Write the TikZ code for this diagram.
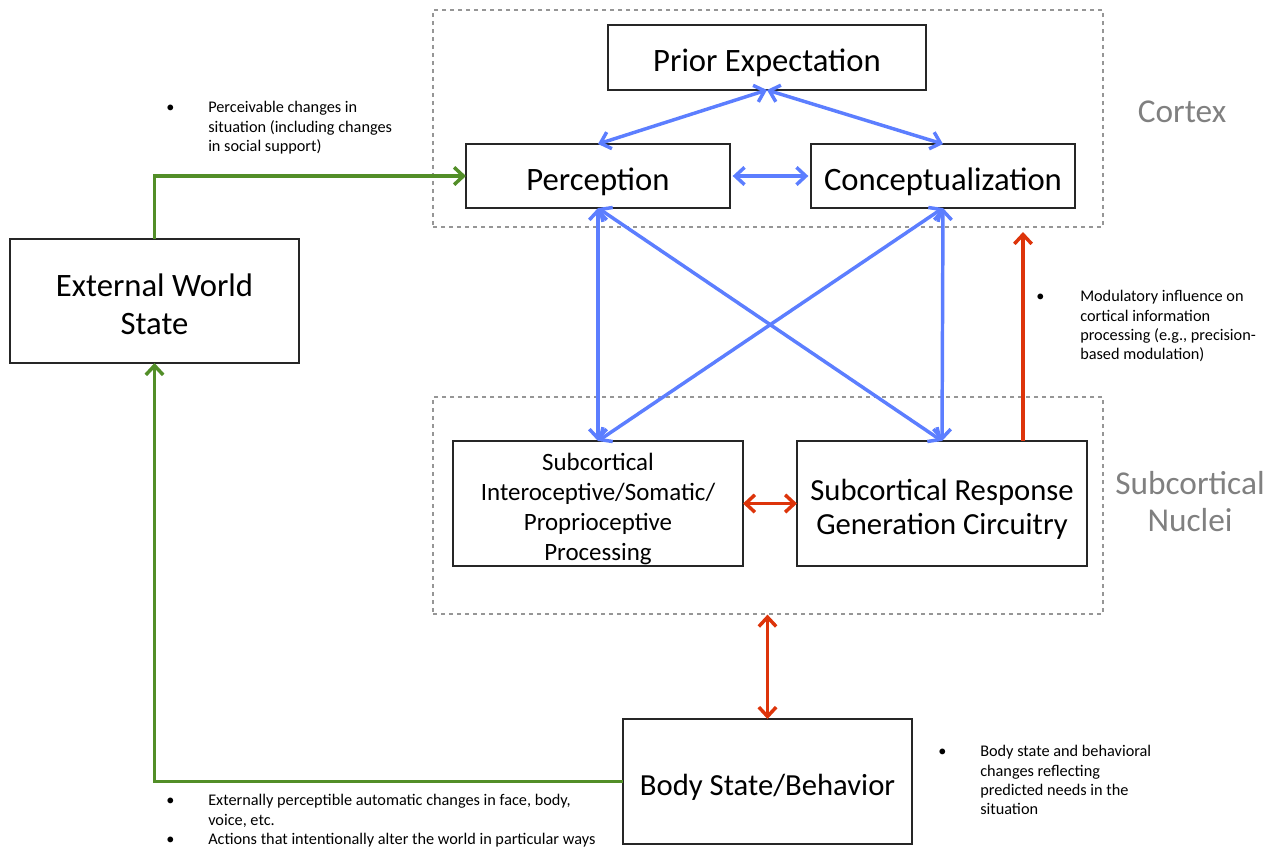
\documentclass[tikz,border=0pt]{standalone}
\usepackage{fontspec}
\setmainfont{Carlito}
\usetikzlibrary{arrows.meta}
\definecolor{cortexblue}{RGB}{92,126,255}
\definecolor{nucleired}{RGB}{221,52,10}
\definecolor{worldgreen}{RGB}{82,142,40}
\definecolor{regiongray}{RGB}{128,128,128}
\definecolor{dashgray}{RGB}{150,150,150}
\tikzset{
  box/.style={draw=black!85, line width=1.1pt, inner sep=0pt, outer sep=0pt},
  boxlabel/.style={align=center, yshift=-4pt, font=\fontsize{24.5}{28}\selectfont},
  region/.style={draw=dashgray, dashed, line width=0.9pt, minimum width=502.5pt, minimum height=162.75pt},
  regionlabel/.style={text=regiongray, font=\fontsize{25}{27.75}\selectfont, align=center},
  note/.style={anchor=north west, inner sep=0pt, font=\fontsize{12.2}{14.5}\selectfont},
  link/.style={line width=2.6pt, arrows={Straight Barb[length=7pt,width=13pt]-Straight Barb[length=7pt,width=13pt]}},
  blue link/.style={link, cortexblue},
  red link/.style={link, nucleired},
  green link/.style={line width=2.6pt, worldgreen, -{Straight Barb[length=7pt,width=13pt]}}
}
\begin{document}
\begin{tikzpicture}[x=0.75pt, y=-0.75pt]
  \useasboundingbox (0,0) rectangle (1263,847);
  % regions
  \node[region] (cortex) at (768,118.5) {};
  \node[region] (nuclei) at (768,505.5) {};
  \node[regionlabel] (cortexlabel) at (1182,112) {Cortex};
  \node[regionlabel] (nucleilabel) at (1190,502) {Subcortical\\Nuclei};
  % boxes
  \node[box, minimum width=238.5pt, minimum height=48.75pt, label={[boxlabel]center:Prior Expectation}] (prior) at (767,57.5) {};
  \node[box, minimum width=198pt, minimum height=48pt, label={[boxlabel]center:Perception}] (percep) at (598,176) {};
  \node[box, minimum width=198pt, minimum height=48pt, label={[boxlabel]center:Conceptualization}] (concept) at (943,176) {};
  \node[box, minimum width=216.75pt, minimum height=93pt, label={[boxlabel, yshift=1.5pt]center:External World\\State}] (world) at (154.5,301) {};
  \node[box, minimum width=217.5pt, minimum height=93.75pt, label={[boxlabel, font=\fontsize{18.7}{22.5}\selectfont]center:Subcortical\\Interoceptive/Somatic/\\Proprioceptive\\Processing}] (intero) at (598,503.5) {};
  \node[box, minimum width=217.5pt, minimum height=93.75pt, label={[boxlabel, yshift=-0.5pt, font=\fontsize{23}{25.5}\selectfont]center:Subcortical Response\\Generation Circuitry}] (resp) at (942,503.5) {};
  \node[box, minimum width=216.75pt, minimum height=93.75pt, label={[boxlabel, yshift=-0.5pt, font=\fontsize{23}{28}\selectfont]center:Body State/Behavior}] (body) at (767.5,781.5) {};
  % notes
  \node[note] (perceivable) at (166,99) {\begin{tabular}{@{}p{31.5pt}@{}l@{}}
    \textbullet & Perceivable changes in\\
                & situation (including changes\\
                & in social support)
  \end{tabular}};
  \node[note] (modulatory) at (1036,288) {\begin{tabular}{@{}p{33pt}@{}l@{}}
    \textbullet & Modulatory influence on\\
                & cortical information\\
                & processing (e.g., precision-\\
                & based modulation)
  \end{tabular}};
  \node[note] (bodynote) at (938,743) {\begin{tabular}{@{}p{31.5pt}@{}l@{}}
    \textbullet & Body state and behavioral\\
                & changes reflecting\\
                & predicted needs in the\\
                & situation
  \end{tabular}};
  \node[note] (actions) at (166,792) {\begin{tabular}{@{}p{31.5pt}@{}l@{}}
    \textbullet & Externally perceptible automatic changes in face, body,\\
                & voice, etc.\\
    \textbullet & Actions that intentionally alter the world in particular ways
  \end{tabular}};
  % cortical links
  \draw[blue link] (prior.south) -- (percep.north);
  \draw[blue link] (prior.south) -- (concept.north);
  \draw[blue link, shorten <=2pt, shorten >=2pt] (percep.east) -- (concept.west);
  \draw[blue link] (percep.south) -- (intero.north);
  \draw[blue link] (percep.south) -- (resp.north);
  \draw[blue link] (concept.south) -- (intero.north);
  \draw[blue link] (concept.south) -- (resp.north);
  % subcortical links
  \coordinate (modtip) at (1023,232);
  \draw[red link] (intero.east) -- (resp.west);
  \draw[line width=2.6pt, nucleired, -{Straight Barb[length=7pt,width=13pt]}] (modtip |- resp.north) -- (modtip);
  \draw[red link] (body.north) -- (body.north |- nuclei.south);
  % world loop
  \draw[green link] (world.north) |- (percep.west);
  \draw[green link] (body.west) -| (world.south);
\end{tikzpicture}
\end{document}
